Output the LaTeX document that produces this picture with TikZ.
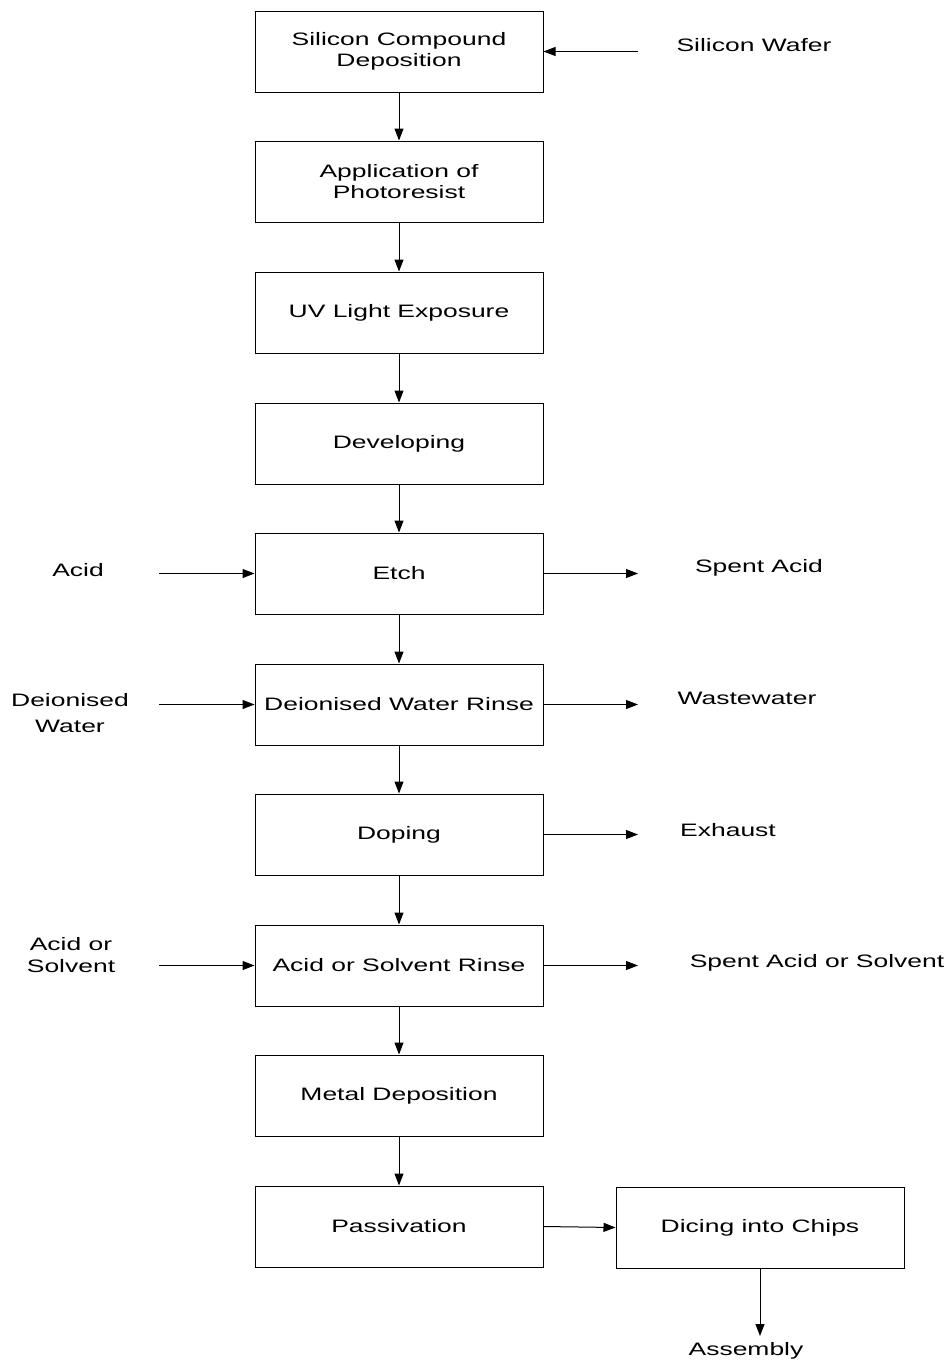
\documentclass[tikz,border=0pt]{standalone}
\usepackage{fontspec}
\setmainfont{Liberation Sans}[FakeStretch=1.47]
\usetikzlibrary{arrows.meta}
\begin{document}
\begin{tikzpicture}[x=1pt,y=-1pt,
  every node/.style={font=\fontsize{18}{21.6}\selectfont, align=center, inner sep=0pt},
  box/.style={draw, line width=1pt, minimum width=288, minimum height=81},
  lbl/.style={},
  flow/.style={line width=1pt, -{Triangle[length=12pt,width=9pt]}}]
\useasboundingbox (0,0) rectangle (948,1360);
\node[box] (b1) at (399,51.5) {Silicon Compound\\Deposition};
\node[box] (b2) at (399,181.5) {Application of\\Photoresist};
\node[box] (b3) at (399,312.5) {UV Light Exposure};
\node[box] (b4) at (399,443.5) {Developing};
\node[box] (b5) at (399,573.5) {Etch};
\node[box] (b6) at (399,704.5) {Deionised Water Rinse};
\node[box] (b7) at (399,834.5) {Doping};
\node[box] (b8) at (399,965.5) {Acid or Solvent Rinse};
\node[box] (b9) at (399,1095.5) {Metal Deposition};
\node[box] (b10) at (399,1226.5) {Passivation};
\node[box] (dice) at (760,1227.5) {Dicing into Chips};

\node[lbl] (wafer) at (754,45.5) {Silicon Wafer};
\node[lbl] (acid) at (78,570.5) {Acid};
\node[lbl] (spent) at (759,567.5) {Spent Acid};
\node[lbl,font=\fontsize{18}{25.5}\selectfont] (diw) at (70,713) {Deionised\\Water};
\node[lbl] (waste) at (747,698.5) {Wastewater};
\node[lbl] (exh) at (728,830.5) {Exhaust};
\node[lbl] (aos) at (71,955) {Acid or\\Solvent};
\node[lbl] (spaos) at (817,962.5) {Spent Acid or Solvent};
\node[lbl] (asm) at (746,1351) {Assembly};

\coordinate (cw) at (638,51.5);
\coordinate (ca) at (159,573.5);
\coordinate (csa) at (638,573.5);
\coordinate (cdw) at (159,704.5);
\coordinate (cww) at (638,704.5);
\coordinate (cex) at (638,834.5);
\coordinate (cas) at (159,965.5);
\coordinate (csas) at (638,965.5);
\coordinate (casm) at (760,1336);

\foreach \a/\b in {b1/b2,b2/b3,b3/b4,b4/b5,b5/b6,b6/b7,b7/b8,b8/b9,b9/b10}
  \draw[flow] (\a.south) -- (\b.north);
\draw[flow] (cw) -- (b1.east);
\draw[flow] (ca) -- (b5.west);
\draw[flow] (b5.east) -- (csa);
\draw[flow] (cdw) -- (b6.west);
\draw[flow] (b6.east) -- (cww);
\draw[flow] (b7.east) -- (cex);
\draw[flow] (cas) -- (b8.west);
\draw[flow] (b8.east) -- (csas);
\draw[flow] (b10.east) -- (dice.west);
\draw[flow] (dice.south) -- (casm);
\end{tikzpicture}
\end{document}
